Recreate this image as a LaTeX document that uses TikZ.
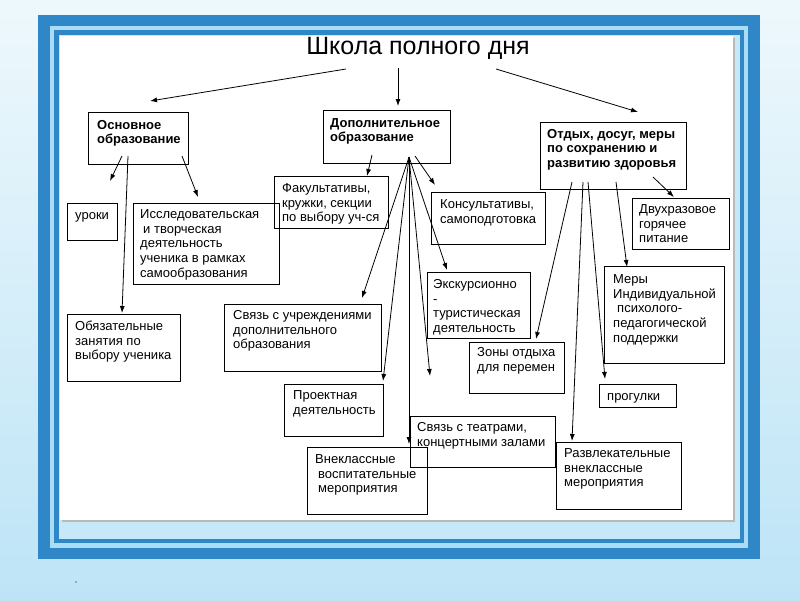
\documentclass[tikz,border=0pt]{standalone}
\usepackage{fontspec}
\setmainfont{Liberation Sans}
\usetikzlibrary{arrows.meta}
\definecolor{frameblue}{HTML}{2F87C7}
\definecolor{stripe}{HTML}{AADDF5}
\definecolor{innerlight}{HTML}{C6E8F8}
\definecolor{bgtop}{HTML}{EEF8FC}
\definecolor{bgbot}{HTML}{BDE4F6}
\newcommand{\mybox}[5]{\node[box, minimum width={#4-#2}, minimum height={#5-#3}] (#1) at (#2,#3) {};}
\begin{document}
\begin{tikzpicture}[x=1pt,y=-1pt,
  box/.style={draw=black, line width=0.8pt, inner sep=0pt, anchor=north west},
  txt/.style={anchor=north west, inner sep=0pt, align=left, font=\fontsize{13}{14.8}\selectfont},
  btxt/.style={anchor=north west, inner sep=0pt, align=left, font=\fontsize{13}{14.6}\selectfont\bfseries},
  arr/.style={line width=0.8pt, -{Latex[length=7pt,width=5pt]}}]
% background and frame
\useasboundingbox (0,0) rectangle (800,600);
\shade[top color=bgtop, bottom color=bgbot] (0,0) rectangle (800,600);
\fill[frameblue] (38,15) rectangle (760,559);
\fill[stripe] (50,26) rectangle (748,548);
\fill[frameblue] (54,30) rectangle (744,543);
\fill[innerlight] (59,35) rectangle (740,539);
\fill[gray!55] (62,38) rectangle (735,522);
\fill[white] (60,36) rectangle (733,520);
\fill[black] (76,582) circle (0.7);
% title
\node[font=\fontsize{25}{28}\selectfont] (title) at (418,48) {Школа полного дня};
% boxes
\mybox{osn}{88}{112}{188}{164}
\mybox{dop}{323}{110}{450}{163}
\mybox{otd}{540}{122}{686}{189}
\mybox{uroki}{67}{203}{117}{240}
\mybox{issl}{133}{203}{279}{284}
\mybox{fak}{274}{176}{388}{228}
\mybox{kons}{431}{192}{545}{244}
\mybox{dvuh}{632}{198}{729}{249}
\mybox{obyaz}{67}{314}{180}{381}
\mybox{svuch}{224}{304}{381}{371}
\mybox{eksk}{427}{272}{530}{338}
\mybox{zony}{469}{342}{564}{393}
\mybox{mery}{604}{266}{724}{363}
\mybox{progul}{599}{384}{676}{407}
\mybox{proekt}{284}{384}{383}{436}
\mybox{teatr}{410}{416}{555}{467}
\mybox{vnekl}{307}{447}{427}{514}
\mybox{razvl}{556}{442}{681}{509}
% texts
\node[btxt] (osnT) at (97,118.8) {\strut Основное\\образование};
\node[btxt] (dopT) at (330,116.8) {\strut Дополнительное\\образование};
\node[btxt] (otdT) at (547,127.8) {\strut Отдых, досуг, меры\\по сохранению и\\развитию здоровья};
\node[txt] (urokiT) at (75,208.8) {\strut уроки};
\node[txt] (isslT) at (140,207.8) {\strut Исследовательская\\\hspace{3pt}и творческая\\деятельность\\ученика в рамках\\самообразования};
\node[txt] (fakT) at (282,181.8) {\strut Факультативы,\\кружки, секции\\по выбору уч-ся};
\node[txt] (konsT) at (440,197.8) {\strut Консультативы,\\самоподготовка};
\node[txt] (dvuhT) at (639,202.8) {\strut Двухразовое\\горячее\\питание};
\node[txt] (obyazT) at (75,319.8) {\strut Обязательные\\занятия по\\выбору ученика};
\node[txt] (svuchT) at (233,308.8) {\strut Связь с учреждениями\\дополнительного\\образования};
\node[txt] (ekskT) at (433,277.8) {\strut Экскурсионно\\-\\туристическая\\деятельность};
\node[txt] (zonyT) at (477,345.8) {\strut Зоны отдыха\\для перемен};
\node[txt] (meryT) at (613,272.8) {\strut Меры\\Индивидуальной\\\hspace{4pt}психолого-\\педагогической\\поддержки};
\node[txt] (progulT) at (607,389.8) {\strut прогулки};
\node[txt] (proektT) at (293,388.8) {\strut Проектная\\деятельность};
\node[txt] (teatrT) at (417,420.8) {\strut Связь с театрами,\\концертными залами};
\node[txt] (vneklT) at (315,452.8) {\strut Внеклассные\\\hspace{3pt}воспитательные\\\hspace{3pt}мероприятия};
\node[txt] (razvlT) at (564,446.8) {\strut Развлекательные\\внеклассные\\мероприятия};
% connector coordinates
\coordinate (ta) at (346,69); \coordinate (tb) at (398,68); \coordinate (tc) at (496,69);
\coordinate (osnE) at (150,101); \coordinate (dopE) at (398,106); \coordinate (otdE) at (638,112);
\coordinate (o1) at (122,156); \coordinate (o2) at (128,156); \coordinate (o3) at (182,156);
\coordinate (urokiE) at (110,181); \coordinate (obyazE) at (122,313); \coordinate (isslE) at (198,197);
\coordinate (d1) at (372,155); \coordinate (d2) at (415,156); \coordinate (F) at (409,157);
\coordinate (fakE) at (367,176); \coordinate (konsE) at (435,185); \coordinate (ekskE) at (447,270);
\coordinate (svuchE) at (362,298); \coordinate (proektE) at (383,381); \coordinate (vneklE) at (409,444);
\coordinate (freeE) at (430,376);
\coordinate (r1) at (572,182); \coordinate (r2) at (583,182); \coordinate (r3) at (588,182);
\coordinate (r4) at (616,182); \coordinate (r5) at (653,177);
\coordinate (zonyE) at (536,339); \coordinate (razvlE) at (572,441); \coordinate (progulE) at (605,379);
\coordinate (meryE) at (627,267); \coordinate (dvuhE) at (674,197);
% connectors
\draw[arr] (ta) -- (osnE);
\draw[arr] (tb) -- (dopE);
\draw[arr] (tc) -- (otdE);
\draw[arr] (o1) -- (urokiE);
\draw[arr] (o2) -- (obyazE);
\draw[arr] (o3) -- (isslE);
\draw[arr] (d1) -- (fakE);
\draw[arr] (d2) -- (konsE);
\draw[arr] (F) -- (ekskE);
\draw[arr] (F) -- (svuchE);
\draw[arr] (F) -- (proektE);
\draw[arr] (F) -- (vneklE);
\draw[arr] (F) -- (freeE);
\draw[arr] (r1) -- (zonyE);
\draw[arr] (r2) -- (razvlE);
\draw[arr] (r3) -- (progulE);
\draw[arr] (r4) -- (meryE);
\draw[arr] (r5) -- (dvuhE);
\end{tikzpicture}
\end{document}
